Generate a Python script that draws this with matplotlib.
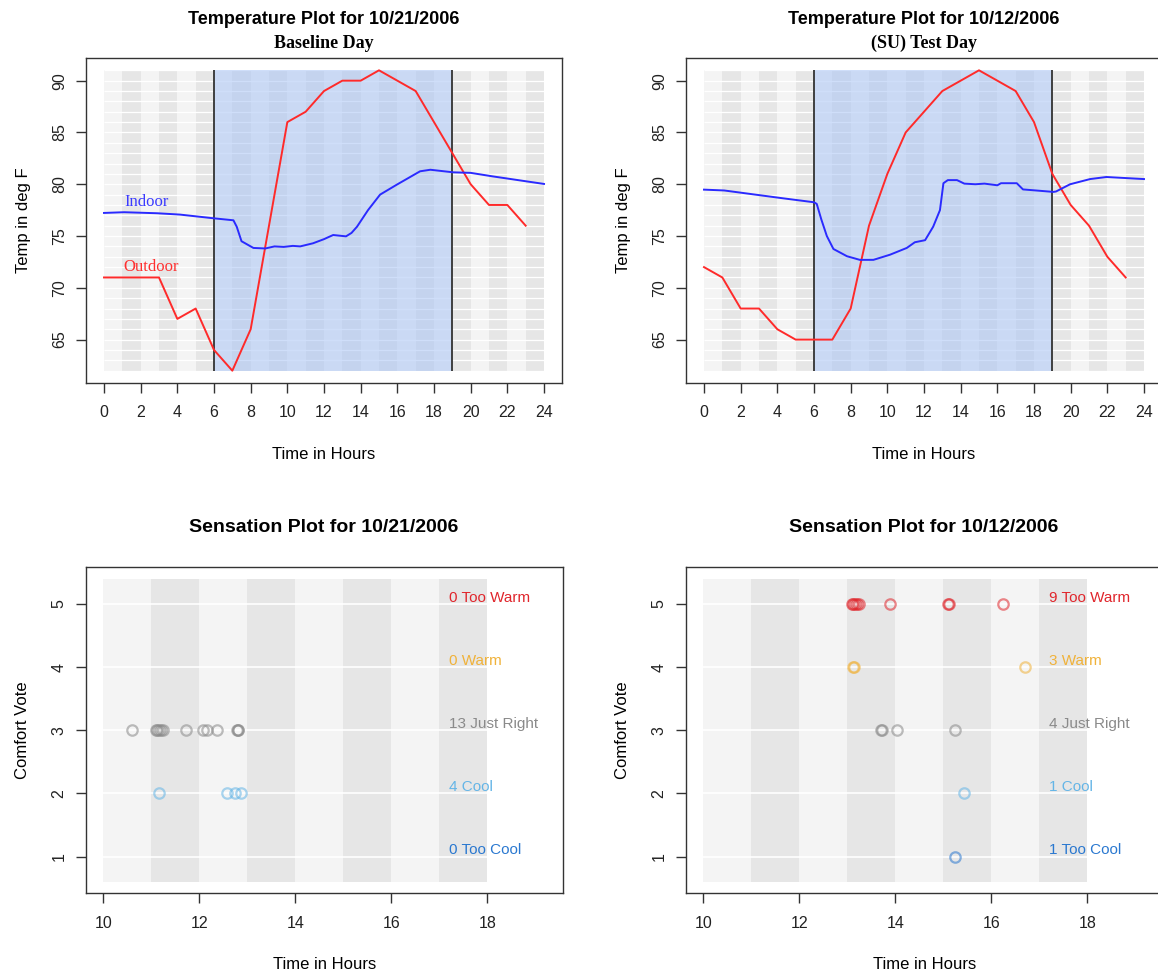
import matplotlib
matplotlib.use("Agg")
import matplotlib.pyplot as plt
import numpy as np

plt.rcParams['font.family'] = ['Liberation Sans', 'DejaVu Sans']

# ---------------- data ----------------
hours = list(range(0, 24))
outdoor_base = [71, 71, 71, 71, 67, 68, 64, 62, 66, 76, 86, 87, 89, 90, 90, 91, 90, 89, 86, 83, 80, 78, 78, 76]
outdoor_test = [72, 71, 68, 68, 66, 65, 65, 65, 68, 76, 81, 85, 87, 89, 90, 91, 90, 89, 86, 81, 78, 76, 73, 71]

indoor_base_h = [0, 1.1, 2.9, 4.15, 6.0, 7.06, 7.24, 7.5, 7.8, 8.15, 8.8, 9.3, 9.8, 10.3, 10.7, 11.4,
                 12.0, 12.5, 13.2, 13.5, 13.8, 14.4, 15.06, 15.97, 16.6, 17.24, 17.8, 19.06, 20.0, 21.2, 24.0]
indoor_base_t = [77.23, 77.3, 77.2, 77.07, 76.71, 76.52, 75.9, 74.5, 74.2, 73.85, 73.8, 74.0, 73.95, 74.05, 74.0, 74.3,
                 74.7, 75.1, 74.97, 75.3, 75.9, 77.5, 79.0, 79.96, 80.6, 81.25, 81.4, 81.15, 81.1, 80.76, 80.03]

indoor_test_h = [0, 1.1, 4.15, 6.0, 6.15, 6.4, 6.7, 7.06, 7.8, 8.5, 9.24, 10.15, 11.06, 11.5, 12.06, 12.5, 12.87,
                 13.06, 13.3, 13.8, 14.2, 14.8, 15.3, 16.0, 16.2, 17.06, 17.4, 18.1, 19.06, 19.2, 19.97, 21.06, 21.95, 24.0]
indoor_test_t = [79.48, 79.4, 78.68, 78.26, 78.1, 76.6, 75.0, 73.75, 73.05, 72.7, 72.7, 73.2, 73.85, 74.4, 74.6, 75.9, 77.5,
                 80.1, 80.4, 80.4, 80.06, 80.0, 80.06, 79.9, 80.1, 80.1, 79.5, 79.4, 79.26, 79.3, 80.0, 80.5, 80.7, 80.5]

occupied_start, occupied_end = 6, 19

vote_names = ["Too Cool", "Cool", "Just Right", "Warm", "Too Warm"]
vote_colors = ["#2a78d0", "#64b5e6", "#8a8a8a", "#f0b23a", "#e0262c"]

votes_base = {
    5: [],
    4: [],
    3: [10.59, 11.10, 11.12, 11.15, 11.20, 11.24, 11.73, 12.07, 12.15, 12.37, 12.79, 12.80, 12.81],
    2: [11.15, 12.57, 12.75, 12.87],
    1: [],
}
votes_test = {
    5: [13.10, 13.12, 13.15, 13.19, 13.24, 13.88, 15.09, 15.11, 16.25],
    4: [13.11, 13.13, 16.70],
    3: [13.71, 13.73, 14.03, 15.25],
    2: [15.43],
    1: [15.25],
}

W, H = 1158, 975
fig = plt.figure(figsize=(W / 100, H / 100), dpi=100)


def ax_at(x0, y0, x1, y1):
    return fig.add_axes([x0 / W, 1 - y1 / H, (x1 - x0) / W, (y1 - y0) / H])


def style_axes(ax):
    for s in ax.spines.values():
        s.set_color("#333333")
        s.set_linewidth(1.0)
    ax.tick_params(axis="both", direction="out", length=7, width=1.0, color="#333333",
                   labelsize=11.5, labelcolor="#222222", pad=9)
    ax.tick_params(axis="y", pad=7)
    for lab in ax.get_yticklabels():
        lab.set_rotation(90)
        lab.set_va("center")
        lab.set_ha("right")


def temp_plot(ax, outdoor, ind_h, ind_t, title, subtitle, cx, show_names):
    ax.set_xlim(-0.96, 24.96)
    ax.set_ylim(60.84, 92.16)
    ylo, yhi = 62, 91
    for h in range(0, 24):
        c = "#f4f4f4" if h % 2 == 0 else "#e6e6e6"
        ax.fill_between([h, h + 1], ylo, yhi, color=c, lw=0, zorder=0)
    ax.hlines(np.arange(ylo, yhi + 1), 0, 24, color="white", lw=0.9, zorder=1)
    ax.fill_between([occupied_start, occupied_end], ylo, yhi, color="#a9c4f5", alpha=0.55, lw=0, zorder=2)
    ax.vlines([occupied_start, occupied_end], ylo, yhi, color="#333333", lw=1.3, zorder=3)
    ax.plot(hours, outdoor, color="#ff2a2a", lw=1.4, zorder=4)
    ax.plot(ind_h, ind_t, color="#2a2aff", lw=1.4, zorder=4)
    if show_names:
        ax.text(1.1, 77.9, "Indoor", color="#3a3aff", family="Liberation Serif", fontsize=12, zorder=5)
        ax.text(1.05, 71.6, "Outdoor", color="#ff3030", family="Liberation Serif", fontsize=12, zorder=5)
    ax.set_xticks(range(0, 25, 2))
    ax.set_yticks(range(65, 91, 5))
    style_axes(ax)
    ax.set_xlabel("Time in Hours", fontsize=12, labelpad=19.5)
    ax.set_ylabel("Temp in deg F", fontsize=12, labelpad=15)
    fig.text(cx / W, 1 - 19 / H, title, ha="center", va="center", fontsize=13, fontweight="bold")
    fig.text(cx / W, 1 - 43 / H, subtitle, ha="center", va="center", fontsize=13, fontweight="bold",
             family="Liberation Serif")


def sens_plot(ax, votes, title, cx):
    ax.set_xlim(9.63, 19.57)
    ax.set_ylim(0.42, 5.58)
    for h in range(10, 18):
        c = "#f4f4f4" if h % 2 == 0 else "#e6e6e6"
        ax.fill_between([h, h + 1], 0.6, 5.4, color=c, lw=0, zorder=0)
    ax.hlines([1, 2, 3, 4, 5], 10, 18, color="white", lw=1.2, zorder=1)
    for v in range(5, 0, -1):
        col = vote_colors[v - 1]
        xs = votes[v]
        if xs:
            ax.plot(xs, [v] * len(xs), "o", mfc="none", mec=col, mew=1.6, ms=7.5, alpha=0.55, zorder=3)
        ax.text(17.21, v + 0.1, f"{len(xs)} {vote_names[v - 1]}", color=col, fontsize=11,
                ha="left", va="center", zorder=4)
    ax.set_xticks(range(10, 19, 2))
    ax.set_yticks([1, 2, 3, 4, 5])
    style_axes(ax)
    ax.set_xlabel("Time in Hours", fontsize=12, labelpad=19)
    ax.set_ylabel("Comfort Vote", fontsize=12, labelpad=15)
    fig.text(cx / W, 1 - 527 / H, title, ha="center", va="center", fontsize=14, fontweight="bold")


ax1 = ax_at(86.4, 58.3, 561.6, 382.7)
ax2 = ax_at(686.4, 58.3, 1161.6, 382.7)
ax3 = ax_at(85.7, 567.3, 562.7, 893.3)
ax4 = ax_at(685.7, 567.3, 1162.7, 893.3)

temp_plot(ax1, outdoor_base, indoor_base_h, indoor_base_t, "Temperature Plot for 10/21/2006", "Baseline Day", 324, True)
temp_plot(ax2, outdoor_test, indoor_test_h, indoor_test_t, "Temperature Plot for 10/12/2006", "(SU) Test Day", 924, False)
sens_plot(ax3, votes_base, "Sensation Plot for 10/21/2006", 324)
sens_plot(ax4, votes_test, "Sensation Plot for 10/12/2006", 924)

fig.savefig("out.png", dpi=100)
